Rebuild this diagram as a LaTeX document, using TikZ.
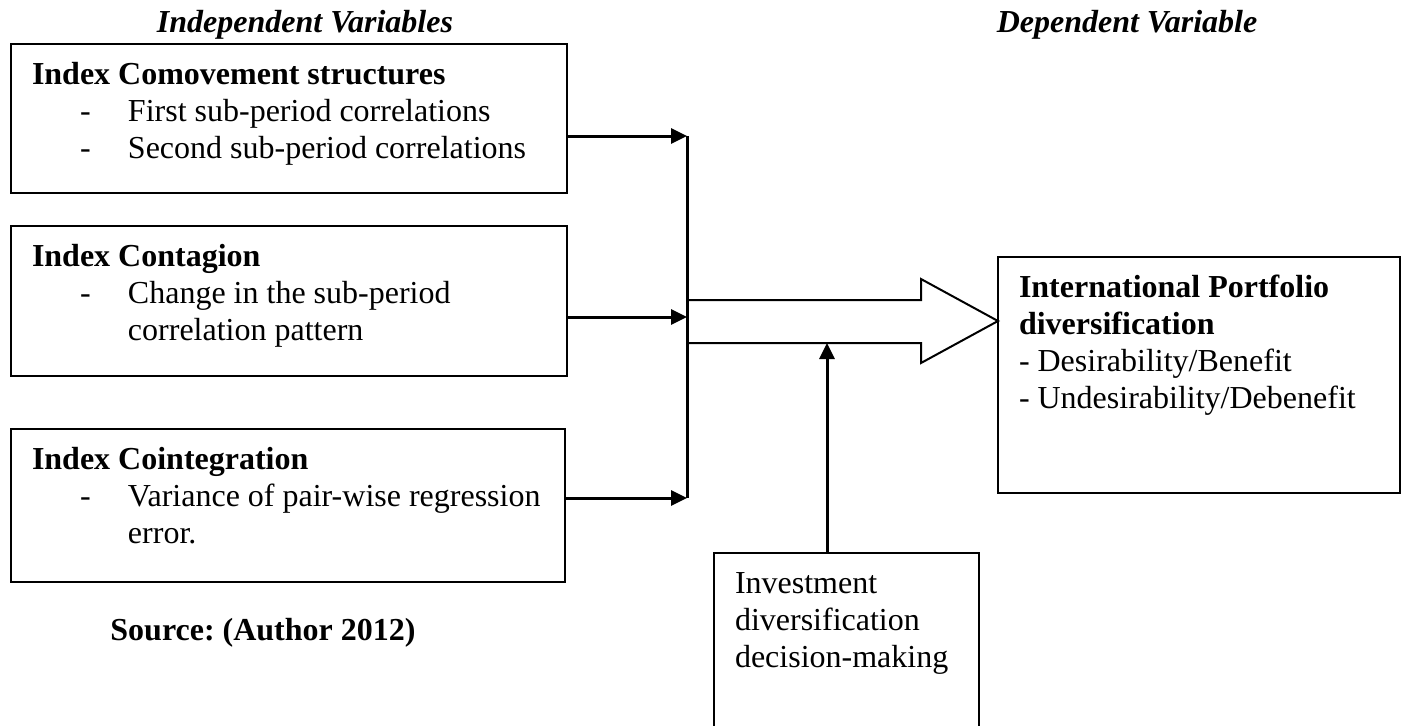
\documentclass[tikz,border=0pt]{standalone}
\usepackage{fontspec}
\setmainfont{Liberation Serif}
\usetikzlibrary{arrows.meta,positioning}
\frenchspacing

\newcommand{\boxtext}[3]{\hspace*{10.5pt}\parbox[b][#2][t]{\dimexpr#1-10.5pt\relax}{\raggedright\rule{0pt}{20pt}\ignorespaces#3}}
\newcommand{\dashitem}[1]{\makebox[48pt][l]{\hspace*{24pt}-}#1}
\newcommand{\hangline}[1]{\hspace*{48pt}#1}

\begin{document}
\begin{tikzpicture}[x=0.5pt,y=-0.5pt,
        every node/.style={font=\fontsize{16}{18.5}\selectfont},
        varbox/.style={draw,rectangle,line width=1pt,inner sep=0pt,outer sep=0pt,anchor=north west},
        heading/.style={anchor=base,font=\fontsize{16}{18.5}\selectfont\bfseries\itshape},
        link/.style={line width=1.5pt,-{Triangle[length=8pt,width=7.5pt]}},
        bigarrow/.style={line width=1pt,line join=miter}]
    \clip (0,0) rectangle (1404,725);
    \node[heading] (indep) at (305,32) {Independent Variables};
    \node[heading] (dep) at (1127,32) {Dependent Variable};
    \node[varbox] (comove) at (11,44) {\boxtext{278pt}{74.5pt}{\textbf{Index Comovement structures}\\
        \dashitem{First sub-period correlations}\\
        \dashitem{Second sub-period correlations}}};
    \node[varbox] (contag) [below=16.5pt of comove.south west,anchor=north west] {\boxtext{278pt}{75pt}{\textbf{Index Contagion}\\
        \dashitem{Change in the sub-period}\\
        \hangline{correlation pattern}}};
    \node[varbox] (coint) [below=26.5pt of contag.south west,anchor=north west] {\boxtext{277pt}{76.5pt}{\textbf{Index Cointegration}\\
        \dashitem{Variance of pair-wise regression}\\
        \hangline{error.}}};
    \node[anchor=base,font=\fontsize{16}{18.5}\selectfont\bfseries] (src) at (263,640) {Source: (Author 2012)};
    \node[varbox] (port) at (998,257) {\boxtext{201pt}{118pt}{\textbf{International Portfolio}\\
        \textbf{diversification}\\
        - Desirability/Benefit\\
        - Undesirability/Debenefit}};
    \node[varbox] (decide) at (714,553) {\boxtext{132.5pt}{110pt}{Investment\\
        diversification\\
        decision-making}};
    % joining line of the three inputs
    \coordinate (bus1) at (687,136);
    \coordinate (bus2) at (687,317);
    \coordinate (bus3) at (687,498);
    \draw[line width=1.5pt] (bus1) -- (bus3);
    \draw[link] (comove.east |- bus1) -- (bus1);
    \draw[link] (contag.east |- bus2) -- (bus2);
    \draw[link] (coint.east |- bus3) -- (bus3);
    % hollow arrow into the dependent box
    \draw[bigarrow] (687,300) -- (921,300) -- (921,279) -- (port.west |- 0,321)
        -- (921,363) -- (921,343) -- (687,343);
    \coordinate (shaft) at (827,343);
    \draw[link] (decide.north -| shaft) -- (shaft);
\end{tikzpicture}
\end{document}
